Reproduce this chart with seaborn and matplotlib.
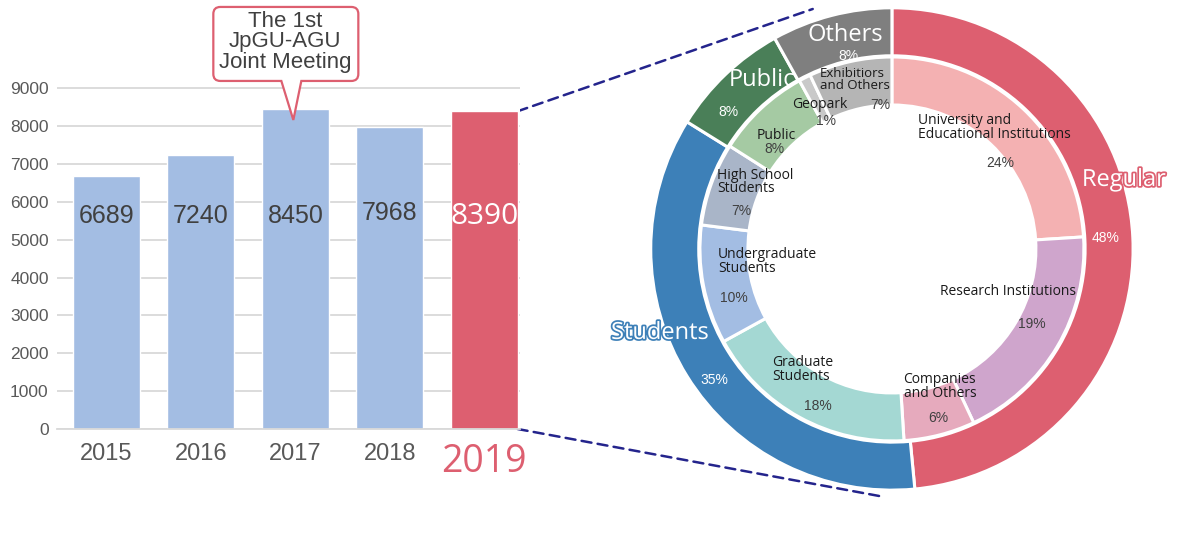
import matplotlib
matplotlib.use('Agg')
import matplotlib.pyplot as plt
import matplotlib.patheffects as pe
from matplotlib import font_manager
from matplotlib.path import Path
from matplotlib.patches import PathPatch, ConnectionPatch
from matplotlib.transforms import ScaledTranslation, Affine2D
import seaborn as sns

# participants per year
years = ['2015', '2016', '2017', '2018', '2019']
participants = [6689, 7240, 8450, 7968, 8390]

# 2019 breakdown (percent)
outer_labels = ['Regular', 'Students', 'Public', 'Others']
outer_pct = [48, 35, 8, 8]
inner_labels = ['University and\nEducational Institutions', 'Research Institutions',
                'Companies\nand Others', 'Graduate\nStudents', 'Undergraduate\nStudents',
                'High School\nStudents', 'Public', 'Geopark', 'Exhibitiors\nand Others']
inner_pct = [24, 19, 6, 18, 10, 7, 8, 1, 7]

bar_colors = ['#A3BDE3', '#A3BDE3', '#A3BDE3', '#A3BDE3', '#DD5F70']
outer_colors = ['#DD5F70', '#3D80B8', '#4A7F58', '#7F7F7F']
inner_colors = ['#F4B1B2', '#CFA5CC', '#E6AABD', '#A4D8D3', '#A3BDE3',
                '#A9B5C8', '#A5CAA3', '#C9C9C9', '#B5B5B5']

sns.set_theme(style='white')
names = {f.name for f in font_manager.fontManager.ttflist}
NARROW = 'Liberation Sans Narrow' if 'Liberation Sans Narrow' in names else 'Open Sans'
plt.rcParams['font.family'] = ['Liberation Sans', 'DejaVu Sans']
nf = [NARROW, 'DejaVu Sans']

fig = plt.figure(figsize=(11.83, 5.33), dpi=100)
fig.patch.set_facecolor('white')

# ---- bar chart ----
ax = fig.add_axes([0.0482, 0.1951, 0.3914, 0.6417])
sns.barplot(x=years, y=participants, hue=years, palette=bar_colors, width=0.71,
            saturation=1, legend=False, ax=ax, zorder=2)
ax.set_xlim(-0.524, 4.38)
ax.set_ylim(0, 9030)
ax.set_yticks(range(0, 9001, 1000))
ax.yaxis.grid(True, color='#D9D9D9', lw=1.3)
ax.set_axisbelow(True)
for s in ['top', 'right', 'left']:
    ax.spines[s].set_visible(False)
ax.spines['bottom'].set_color('#D9D9D9')
ax.spines['bottom'].set_linewidth(1.3)
ax.tick_params(axis='y', length=0, labelsize=12.5, labelcolor='#595959', pad=6)
ax.tick_params(axis='x', length=0, labelsize=17, labelcolor='#595959', pad=10)
ax.set_xlabel('')
ax.set_ylabel('')
last = ax.get_xticklabels()[-1]
last.set_color('#DD5F70')
last.set_fontsize(27)
last.set_family(nf)

for i, v in enumerate(participants):
    if i == len(participants) - 1:
        ax.text(i, 5620, str(v), ha='center', va='center', color='white',
                fontsize=21.5, family=nf, zorder=3)
    else:
        ax.text(i, 5620 + (80 if v == 7968 else 0), str(v), ha='center', va='center',
                color='#404040', fontsize=18, zorder=3)

# callout for the 2017 bar
tip = ScaledTranslation(2, 8450, ax.transData)
box_trans = Affine2D().scale(1 / 100) + fig.dpi_scale_trans + tip
L, R, B, T, r = -80, 65, 39, 113, 7
tx, ty = -2, -11
pts = [(8, B), (R - r, B), (R, B), (R, B + r), (R, T - r), (R, T), (R - r, T),
       (L + r, T), (L, T), (L, T - r), (L, B + r), (L, B), (L + r, B), (-12, B),
       (0, 0), (8, B)]
codes = [Path.MOVETO, Path.LINETO, Path.CURVE3, Path.CURVE3, Path.LINETO, Path.CURVE3,
         Path.CURVE3, Path.LINETO, Path.CURVE3, Path.CURVE3, Path.LINETO, Path.CURVE3,
         Path.CURVE3, Path.LINETO, Path.LINETO, Path.CLOSEPOLY]
pts = [(x + tx, y + ty) for x, y in pts]
callout = PathPatch(Path(pts, codes), transform=box_trans, facecolor='white',
                    edgecolor='#DD5F70', lw=1.6, clip_on=False, zorder=5)
ax.add_patch(callout)
ax.text(-0.10, 0.67, 'The 1st\nJpGU-AGU\nJoint Meeting', transform=fig.dpi_scale_trans + tip,
        ha='center', va='center', fontsize=16, color='#404040', linespacing=0.95,
        zorder=6, clip_on=False)

# ---- donut ----
ax2 = fig.add_axes([0.5511, 0.0826, 0.4057, 0.9006])
wp = dict(edgecolor='white', linewidth=2.2)
ax2.pie(outer_pct, radius=1.005, startangle=90, counterclock=False, colors=outer_colors,
        wedgeprops=dict(width=0.2, **wp))
ax2.pie(inner_pct, radius=0.8, startangle=90, counterclock=False, colors=inner_colors,
        wedgeprops=dict(width=0.2, **wp))
ax2.set_xlim(-1, 1)
ax2.set_ylim(-1, 1)
ax2.set_aspect('equal')
ax2.axis('off')

outer_pos = {'Regular': ((0.967, 0.2875), (0.892, 0.046)),
             'Students': ((-0.967, -0.35), (-0.742, -0.546)),
             'Public': ((-0.542, 0.704), (-0.683, 0.571)),
             'Others': ((-0.196, 0.892), (-0.183, 0.804))}
for lab, p, c in zip(outer_labels, outer_pct, outer_colors):
    (nx, ny), (px, py) = outer_pos[lab]
    eff = None
    if lab in ('Regular', 'Students'):
        eff = [pe.withStroke(linewidth=2.5, foreground=c)]
    ax2.text(nx, ny, lab, ha='center', va='center', fontsize=17, color='white',
             family=nf, path_effects=eff, zorder=5)
    ax2.text(px, py, f'{p}%', ha='center', va='center', fontsize=10, color='white', zorder=5)

inner_pos = [((0.108, 0.508), 'left', (0.45, 0.358)),
             ((0.483, -0.179), 'center', (0.583, -0.3125)),
             ((0.2, -0.575), 'center', (0.192, -0.704)),
             ((-0.5, -0.504), 'left', (-0.308, -0.654)),
             ((-0.725, -0.054), 'left', (-0.658, -0.204)),
             ((-0.729, 0.279), 'left', (-0.629, 0.158)),
             ((-0.483, 0.471), 'center', (-0.49, 0.417)),
             ((-0.3, 0.6), 'center', (-0.275, 0.533)),
             ((-0.154, 0.705), 'center', (-0.05, 0.6))]
for lab, p, ((nx, ny), ha, (px, py)) in zip(inner_labels, inner_pct, inner_pos):
    ax2.text(nx, ny, lab, ha=ha, va='center', fontsize=9.5 if 'Exhib' in lab else 10,
             color='#1A1A1A', family=nf, linespacing=0.9, multialignment='left', zorder=5)
    ax2.text(px, py, f'{p}%', ha='center', va='center', fontsize=10, color='#404040', zorder=5)

# dashed connectors from the 2019 bar to the donut
for y0, end in [(participants[-1], (-0.33, 1.0)), (0, (-0.05, -1.03))]:
    con = ConnectionPatch(xyA=(4 + 0.355, y0), coordsA=ax.transData, xyB=end,
                          coordsB=ax2.transData, color='#24248C', lw=1.8,
                          linestyle=(0, (4, 2.5)), zorder=0)
    fig.add_artist(con)

fig.savefig('out.png', dpi=100)
